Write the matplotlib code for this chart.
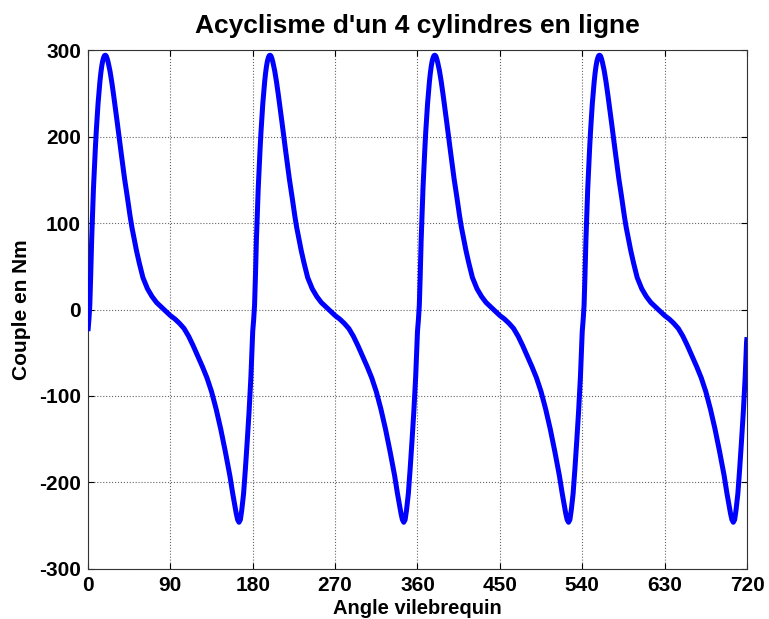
import numpy as np
import matplotlib
matplotlib.use("Agg")
import matplotlib.pyplot as plt

# one firing cycle (180 deg): crank offset (deg) / torque (Nm)
cycle_angle = [0, 1, 2, 3, 4, 5, 6, 7, 8, 9, 10, 11, 12, 13, 14, 15, 16, 17, 18, 19,
               20, 21, 22, 23, 24, 26, 28, 30, 32, 34, 36, 38, 40, 43, 46, 48, 50, 53,
               56, 60, 65, 70, 75, 80, 85, 90, 95, 100, 105, 110, 115, 120, 125, 130,
               135, 140, 145, 150, 155, 158, 160, 162, 163.5, 165, 166.5, 168, 170,
               172, 174, 176, 178, 179.5]
cycle_torque = [-25, -12, 5, 40, 80, 110, 140, 163, 185, 205, 222, 238, 251, 263, 273,
                281, 287, 291, 293.5, 294, 293, 290, 286, 281, 276, 263, 248, 232, 216,
                199, 183, 167, 151, 130, 108, 95, 84, 68, 54, 37, 24, 15, 8, 3, -2, -7,
                -11, -16, -22, -31, -42, -54, -66, -79, -95, -115, -138, -164, -192,
                -212, -224, -236, -243, -246, -243, -232, -213, -184, -152, -118, -78,
                -38]

# the four cylinders fire every 180 deg over the 720 deg cycle
firing_offsets = [0, 180, 360, 540]
end_angle = 720
end_torque = -32

xticks = [0, 90, 180, 270, 360, 450, 540, 630, 720]
yticks = [-300, -200, -100, 0, 100, 200, 300]

angle = np.concatenate([np.array(cycle_angle) + off for off in firing_offsets] + [[end_angle]])
torque = np.concatenate([cycle_torque for _ in firing_offsets] + [[end_torque]])

plt.rcParams["font.family"] = ["Liberation Sans", "DejaVu Sans"]
plt.rcParams["axes.unicode_minus"] = False

fig = plt.figure(figsize=(7.69, 6.19), dpi=100)
ax = fig.add_axes([0.1144, 0.0808, 0.857, 0.8384])

ax.plot(angle, torque, color="#0000ff", linewidth=3.6, solid_capstyle="butt",
        solid_joinstyle="round", zorder=3)

ax.set_xlim(0, 720)
ax.set_ylim(-300, 300)
ax.set_xticks(xticks)
ax.set_yticks(yticks)
ax.grid(True, linestyle=":", color="#666666", linewidth=0.8)
ax.tick_params(direction="in", length=4, width=0.8, top=True, right=True, pad=5,
               labelsize=15)
for lab in ax.get_xticklabels() + ax.get_yticklabels():
    lab.set_fontweight("bold")
for s in ax.spines.values():
    s.set_linewidth(0.8)
    s.set_color("#333333")

ax.set_title("Acyclisme d'un 4 cylindres en ligne", fontsize=19, fontweight="bold", pad=12)
ax.set_xlabel("Angle vilebrequin", fontsize=14.5, fontweight="bold", labelpad=3)
ax.set_ylabel("Couple en Nm", fontsize=15, fontweight="bold", labelpad=6)

fig.savefig("out.png", dpi=100)
